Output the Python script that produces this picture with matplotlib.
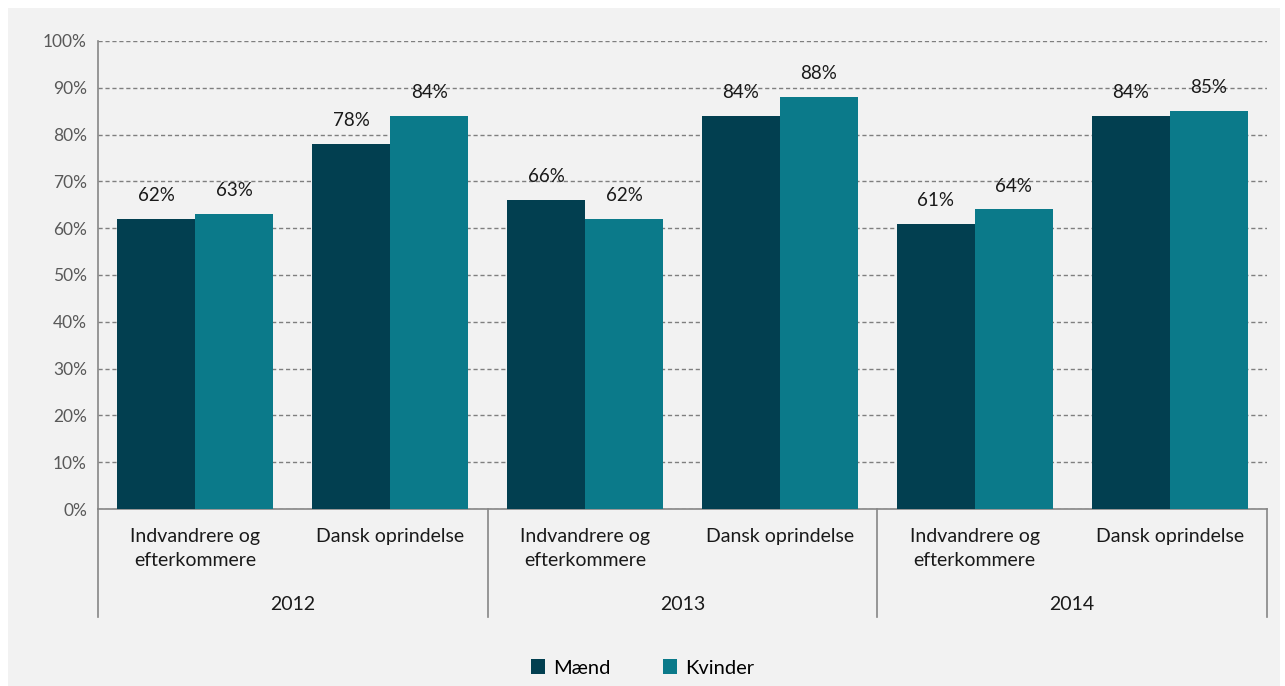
import matplotlib
matplotlib.use("Agg")
import matplotlib.pyplot as plt
import numpy as np
from matplotlib.patches import Rectangle

plt.rcParams['font.family'] = ['Lato', 'DejaVu Sans']

years = ['2012', '2013', '2014']
groups = ['Indvandrere og\nefterkommere', 'Dansk oprindelse']
maend = [62, 78, 66, 84, 61, 84]
kvinder = [63, 84, 62, 88, 64, 85]
series_names = ['Mænd', 'Kvinder']
colors = ['#023F50', '#0B7A8A']

fig = plt.figure(figsize=(12.85, 6.86), dpi=100)
fig.patch.set_facecolor('white')
fig.patches.append(Rectangle((8 / 1285, 0), 1272 / 1285, 678 / 686,
                             transform=fig.transFigure, facecolor='#F2F2F2',
                             edgecolor='none', zorder=-10))

ax = fig.add_axes([98 / 1285, 1 - 509 / 686, 1169 / 1285, 468 / 686])
ax.set_facecolor('#F2F2F2')

x = np.arange(len(maend))
w = 0.4
ax.bar(x - w / 2, maend, w, color=colors[0], label=series_names[0], zorder=3)
ax.bar(x + w / 2, kvinder, w, color=colors[1], label=series_names[1], zorder=3)

for xi, v in zip(x, maend):
    ax.text(xi - w / 2, v + 3.2, f'{v}%', ha='center', va='bottom', fontsize=13.5, color='#1a1a1a', zorder=4)
for xi, v in zip(x, kvinder):
    ax.text(xi + w / 2, v + 3.2, f'{v}%', ha='center', va='bottom', fontsize=13.5, color='#1a1a1a', zorder=4)

ax.set_xlim(-0.5, len(maend) - 0.5)
ax.set_ylim(0, 100)
ax.set_yticks(range(0, 101, 10))
ax.set_yticklabels([f'{t}%' for t in range(0, 101, 10)], fontsize=12.5, color='#595959')
ax.yaxis.grid(True, linestyle=(0, (3, 2)), color='#7f7f7f', linewidth=1, zorder=1)
ax.tick_params(axis='y', length=0, pad=8)
ax.set_xticks([])
for s in ['top', 'right']:
    ax.spines[s].set_visible(False)
for s in ['left', 'bottom']:
    ax.spines[s].set_color('#868686')
    ax.spines[s].set_linewidth(1.2)

# category axis
trans = ax.get_xaxis_transform()
for sep in np.arange(-0.5, len(maend), 2):
    ax.plot([sep, sep], [0, -0.231], transform=trans, color='#868686', lw=1.2, clip_on=False)
for i, xi in enumerate(x):
    ax.text(xi, -0.04, groups[i % 2], transform=trans, ha='center', va='top',
            fontsize=14, color='#1a1a1a', linespacing=1.5)
for j, yr in enumerate(years):
    ax.text(2 * j + 0.5, -0.205, yr, transform=trans, ha='center', va='center',
            fontsize=14, color='#1a1a1a')

ax.legend(loc='center', bbox_to_anchor=(0.5, 1 - 668 / 686), bbox_transform=fig.transFigure,
          ncol=2, frameon=False, fontsize=14.5, handlelength=0.7, handleheight=0.7,
          columnspacing=2.6, handletextpad=0.4)

fig.savefig('out.png', dpi=100, facecolor=fig.get_facecolor())
